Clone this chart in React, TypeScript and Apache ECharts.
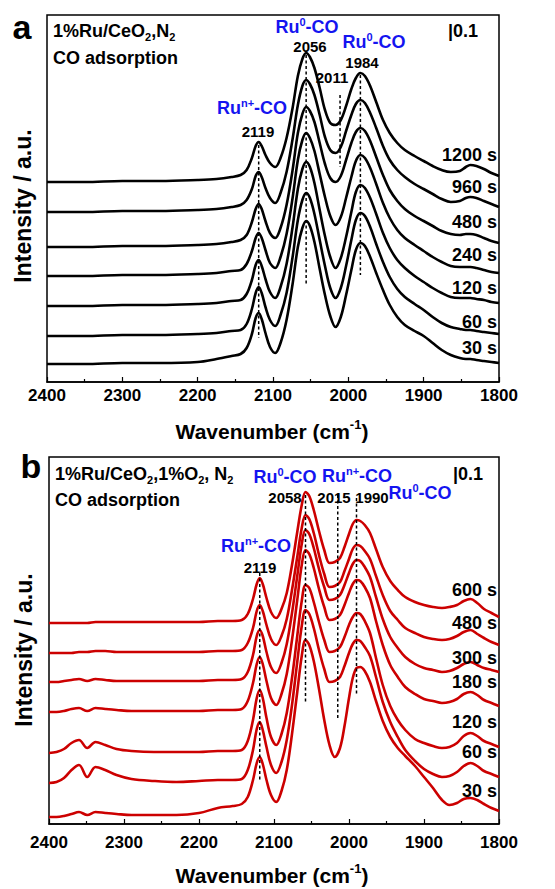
import React, { useEffect, useRef } from "react";
import * as echarts from "echarts";

// ---------- data (intensity in units of 0.01 a.u., curves stacked with offsets) ----------
const wavenumbersA = [2400, 2350, 2300, 2250, 2200, 2175, 2155, 2143, 2135, 2128, 2123, 2119, 2115, 2110, 2104, 2097, 2090, 2082, 2074, 2067, 2061, 2056, 2051, 2045, 2038, 2031, 2024, 2017, 2010, 2003, 1996, 1990, 1984, 1978, 1971, 1963, 1954, 1945, 1935, 1925, 1912, 1900, 1888, 1876, 1864, 1852, 1844, 1838, 1830, 1820, 1810, 1800];

const specA_1200 = [200,200,201,201,202,203,205,207,212,224,236,240,236,227,219,215,224,244,274,306,323,329,325,314,294,272,259,257,262,276,293,304,309,306,296,280,262,249,239,232,226,221,216,212,210,211,215,217,216,213,209,206];
const specA_960 = [170,170,171,171,172,173,175,177,182,193,206,210,205,194,184,179,189,210,243,277,296,302,298,287,267,245,232,229,235,251,267,278,282,279,269,254,236,222,212,205,198,193,188,183,180,181,184,185,184,181,178,175];
const specA_480 = [135,135,136,136,137,138,140,142,147,160,173,178,173,161,149,144,154,177,212,249,268,275,271,260,239,218,204,200,206,222,239,250,254,251,241,225,207,192,181,173,166,161,156,151,148,147,148,148,147,144,141,139];
const specA_240 = [106,106,107,107,108,109,111,112,118,131,144,149,144,132,119,114,125,148,184,222,242,249,244,231,208,185,166,157,165,184,205,221,227,224,214,198,179,164,152,144,137,131,125,120,116,115,115,115,114,112,110,109];
const specA_120 = [76,76,77,77,78,79,81,82,88,102,117,122,116,103,90,84,95,118,155,193,213,220,215,199,172,146,125,114,124,145,170,190,197,194,184,168,149,134,122,114,106,100,94,89,85,84,84,84,83,82,80,79];
const specA_60 = [46,46,47,47,48,49,51,52,58,73,89,95,89,75,62,56,67,89,125,162,182,189,184,168,142,116,94,84,94,116,142,162,169,166,155,138,120,105,93,85,78,72,65,59,55,53,52,52,51,50,49,48];
const specA_30 = [18,18,19,19,20,23,26,28,34,48,64,69,63,49,35,29,39,62,98,135,154,161,156,140,113,87,66,55,65,87,112,132,139,136,125,109,92,77,65,57,51,46,39,32,27,24,23,23,22,21,20,19];

const wavenumbersB = [2400, 2390, 2380, 2370, 2360, 2349, 2338, 2325, 2310, 2290, 2260, 2230, 2200, 2175, 2155, 2143, 2135, 2128, 2123, 2119, 2115, 2110, 2104, 2097, 2090, 2083, 2076, 2069, 2063, 2058, 2053, 2047, 2040, 2033, 2026, 2019, 2012, 2006, 2000, 1995, 1990, 1985, 1979, 1972, 1964, 1955, 1945, 1935, 1925, 1912, 1900, 1888, 1876, 1866, 1856, 1847, 1838, 1829, 1820, 1810, 1800];

const specB_600 = [201,201,201,201,201,201,202,202,202,202,202,202,202,203,203,204,210,225,240,246,240,226,212,206,215,231,259,292,319,332,328,314,293,274,261,262,266,277,290,300,304,303,299,291,275,257,243,234,227,222,219,217,216,217,219,223,225,221,215,211,207];
const specB_480 = [171,171,171,171,172,172,173,173,172,172,172,172,172,173,173,174,181,196,213,219,213,199,185,179,188,205,234,267,296,309,305,291,269,250,237,238,242,253,265,275,279,278,273,265,248,229,213,204,196,191,187,185,184,185,188,192,194,190,186,182,179];
const specB_300 = [142,142,143,144,145,143,145,144,143,143,143,143,143,144,144,145,152,169,188,194,188,172,157,151,161,180,211,248,280,294,290,276,255,237,224,225,229,239,251,260,264,263,257,247,227,205,187,176,167,160,156,154,152,153,156,160,162,159,156,154,152];
const specB_180 = [112,112,113,115,116,113,116,115,114,113,113,113,113,114,114,115,123,141,160,167,160,143,126,119,130,150,184,224,259,274,270,256,235,217,204,205,209,219,231,240,244,243,237,226,203,179,159,147,137,130,125,123,121,122,125,130,132,129,124,121,118];
const specB_120 = [71,72,75,81,84,76,82,79,75,73,72,72,72,73,73,74,83,104,126,134,126,106,87,79,90,111,146,188,223,239,236,222,202,184,172,173,177,187,199,207,211,210,203,191,166,139,118,104,94,85,81,78,76,77,81,88,91,88,83,80,77];
const specB_60 = [41,42,46,54,59,47,57,54,49,45,43,42,43,44,44,45,54,74,95,102,94,77,59,51,62,84,119,162,198,214,210,196,174,155,142,143,147,158,171,180,184,183,177,168,147,122,102,87,74,63,55,50,47,48,52,58,61,58,53,50,47];
const specB_30 = [7,7,8,10,12,9,12,11,10,9,9,9,11,16,18,20,27,44,61,67,60,44,29,22,33,54,90,132,168,184,179,163,135,104,79,67,76,98,126,146,156,157,153,142,123,103,87,76,68,58,47,36,24,19,21,25,26,24,20,16,13];

const timeLabelsA = ["1200 s", "960 s", "480 s", "240 s", "120 s", "60 s", "30 s"];
const timeLabelsB = ["600 s", "480 s", "300 s", "180 s", "120 s", "60 s", "30 s"];

// dashed peak markers: [wavenumber, top, bottom]
const peakMarksA = [[2119, 237, 44], [2056, 327, 97], [2011, 287, 215], [1984, 307, 107]];
const peakMarksB = [[2119, 251, 44], [2058, 329, 122], [2015, 329, 104], [1990, 326, 129]];

const FONT = "'Liberation Sans', Arial, Helvetica, sans-serif";
const BLUE = "#1414f0";
const RED = "#cc0000";

function richStyles(color: string, size: number, lh: number) {
  const base = { fontFamily: FONT, fontWeight: "bold", fill: color, color };
  const small = Math.round(size * 0.62);
  return {
    b: { ...base, fontSize: size, lineHeight: lh, verticalAlign: "middle" },
    sup: { ...base, fontSize: small, lineHeight: small, verticalAlign: "top" },
    sub: { ...base, fontSize: small, lineHeight: small, verticalAlign: "bottom" },
  };
}

function txt(x: number, y: number, text: string, opt: any = {}) {
  const size = opt.size ?? 18;
  const color = opt.color ?? "#000";
  const align = opt.align ?? "left";
  const lh = opt.lh ?? size;
  return {
    type: "text",
    x,
    y,
    rotation: opt.rotation ?? 0,
    silent: true,
    z: 100,
    style: {
      text,
      fill: color,
      font: `bold ${size}px ${FONT}`,
      align,
      textAlign: align,
      verticalAlign: "middle",
      textVerticalAlign: "middle",
      rich: richStyles(color, size, lh),
    },
  };
}

export default function App() {
  const ref = useRef<HTMLDivElement>(null);

  useEffect(() => {
    document.body.style.margin = "0";
    if (!ref.current) return;
    const chart = echarts.init(ref.current, undefined, { renderer: "svg" });

    const specsA = [specA_1200, specA_960, specA_480, specA_240, specA_120, specA_60, specA_30];
    const specsB = [specB_600, specB_480, specB_300, specB_180, specB_120, specB_60, specB_30];

    const curve = (idx: number, xs: number[], ys: number[], color: string, name: string) => ({
      type: "line",
      name,
      xAxisIndex: idx,
      yAxisIndex: idx,
      data: xs.map((w, i) => [w, ys[i]]),
      smooth: 0.35,
      symbol: "none",
      silent: true,
      lineStyle: { color, width: 2.6 },
      z: 3,
    });
    const dash = (idx: number, m: number[]) => ({
      type: "line",
      xAxisIndex: idx,
      yAxisIndex: idx,
      data: [[m[0], m[1]], [m[0], m[2]]],
      symbol: "none",
      silent: true,
      lineStyle: { color: "#000", width: 1.5, type: [3, 2.5] },
      z: 5,
    });

    const series: any[] = [];
    specsA.forEach((s, i) => series.push(curve(0, wavenumbersA, s, "#000", "a " + timeLabelsA[i])));
    peakMarksA.forEach((m) => series.push(dash(0, m)));
    specsB.forEach((s, i) => series.push(curve(1, wavenumbersB, s, RED, "b " + timeLabelsB[i])));
    peakMarksB.forEach((m) => series.push(dash(1, m)));

    const xAxisBase = (gi: number, margin: number) => ({
      type: "value",
      gridIndex: gi,
      min: 1800,
      max: 2400,
      interval: 100,
      inverse: true,
      axisLine: { show: true, onZero: false, lineStyle: { color: "#000", width: 1.5 } },
      axisTick: { show: true, inside: true, length: 5, lineStyle: { color: "#000", width: 1.2 } },
      minorTick: { show: true, splitNumber: 2, length: 3, lineStyle: { color: "#000", width: 1.2 } },
      axisLabel: {
        color: "#000",
        fontFamily: FONT,
        fontWeight: "bold",
        fontSize: 17,
        margin,
        formatter: (v: number) => String(v),
      },
      splitLine: { show: false },
      minorSplitLine: { show: false },
    });

    const yAxisBase = (gi: number) => ({
      type: "value",
      gridIndex: gi,
      min: 0,
      max: 367,
      show: false,
    });

    const timeYA = [155, 187, 222, 255, 288, 322, 348];
    const timeYB = [590, 623, 658, 682, 722, 752, 791];

    const graphics: any[] = [
      // panel a
      txt(22, 27, "a", { size: 34, align: "center" }),
      txt(53, 31, "{b|1%Ru/CeO}{sub|2}{b|,N}{sub|2}", { lh: 22 }),
      txt(53, 58, "{b|CO adsorption}"),
      txt(448, 31, "{b||0.1}"),
      txt(252, 108, "{b|Ru}{sup|n+}{b|-CO}", { color: BLUE, align: "center", lh: 22 }),
      txt(258, 131, "{b|2119}", { size: 15, align: "center" }),
      txt(307, 27, "{b|Ru}{sup|0}{b|-CO}", { color: BLUE, align: "center", lh: 22 }),
      txt(310, 46, "{b|2056}", { size: 15, align: "center" }),
      txt(332, 77, "{b|2011}", { size: 15, align: "center" }),
      txt(374, 42, "{b|Ru}{sup|0}{b|-CO}", { color: BLUE, align: "center", lh: 22 }),
      txt(362, 62, "{b|1984}", { size: 15, align: "center" }),
      txt(272, 431, "{b|Wavenumber (cm}{sup|-1}{b|)}", { size: 21, align: "center", lh: 26 }),
      txt(23, 206, "{b|Intensity / a.u.}", { size: 23, align: "center", rotation: Math.PI / 2 }),
      // panel b
      txt(31, 466, "b", { size: 34, align: "center" }),
      txt(55, 474, "{b|1%Ru/CeO}{sub|2}{b|,1%O}{sub|2}{b|, N}{sub|2}", { lh: 22 }),
      txt(55, 500, "{b|CO adsorption}"),
      txt(453, 474, "{b||0.1}"),
      txt(285, 477, "{b|Ru}{sup|0}{b|-CO}", { color: BLUE, align: "center", lh: 22 }),
      txt(285, 497, "{b|2058}", { size: 15, align: "center" }),
      txt(357, 476, "{b|Ru}{sup|n+}{b|-CO}", { color: BLUE, align: "center", lh: 22 }),
      txt(334, 497, "{b|2015}", { size: 15, align: "center" }),
      txt(372, 497, "{b|1990}", { size: 15, align: "center" }),
      txt(420, 493, "{b|Ru}{sup|0}{b|-CO}", { color: BLUE, align: "center", lh: 22 }),
      txt(256, 546, "{b|Ru}{sup|n+}{b|-CO}", { color: BLUE, align: "center", lh: 22 }),
      txt(260, 567, "{b|2119}", { size: 15, align: "center" }),
      txt(272, 875, "{b|Wavenumber (cm}{sup|-1}{b|)}", { size: 21, align: "center", lh: 26 }),
      txt(24, 650, "{b|Intensity / a.u.}", { size: 23, align: "center", rotation: Math.PI / 2 }),
    ];
    timeLabelsA.forEach((t, i) => graphics.push(txt(497, timeYA[i], `{b|${t}}`, { align: "right" })));
    timeLabelsB.forEach((t, i) => graphics.push(txt(497, timeYB[i], `{b|${t}}`, { align: "right" })));

    chart.setOption({
      animation: false,
      backgroundColor: "#fff",
      grid: [
        { left: 47, top: 15, width: 452, height: 367, show: true, borderColor: "#000", borderWidth: 1.5 },
        { left: 49, top: 457, width: 450, height: 367, show: true, borderColor: "#000", borderWidth: 1.5 },
      ],
      xAxis: [xAxisBase(0, 5), xAxisBase(1, 10)],
      yAxis: [yAxisBase(0), yAxisBase(1)],
      series,
      graphic: graphics,
    });

    return () => chart.dispose();
  }, []);

  return <div ref={ref} style={{ width: 555, height: 889 }} />;
}
